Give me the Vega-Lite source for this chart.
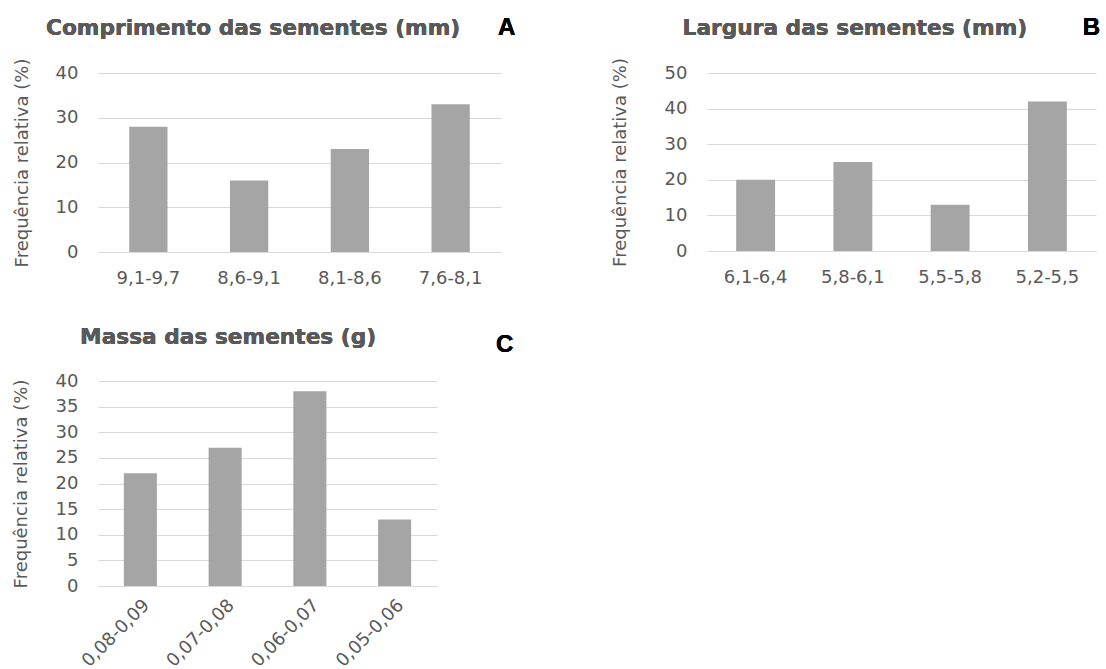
{
  "$schema": "https://vega.github.io/schema/vega-lite/v6.json",
  "padding": {"left": 12, "top": 16, "right": 5, "bottom": 0},
  "background": "white",
  "spacing": 39,
  "vconcat": [
    {
      "hconcat": [
        {
          "width": 403,
          "height": 179,
          "data": {"values": [
            {"faixa": "9,1-9,7", "freq": 28},
            {"faixa": "8,6-9,1", "freq": 16},
            {"faixa": "8,1-8,6", "freq": 23},
            {"faixa": "7,6-8,1", "freq": 33}
          ]},
          "layer": [
            {
              "mark": {"type": "bar", "color": "#a5a5a5"},
              "encoding": {
                "x": {"field": "faixa", "type": "nominal", "sort": null, "scale": {"paddingInner": 0.62, "paddingOuter": 0.31}, "axis": {"title": null}},
                "y": {"field": "freq", "type": "quantitative", "scale": {"domain": [0, 40]}, "axis": {"values": [0, 10, 20, 30, 40], "title": "Frequência relativa (%)", "titlePadding": 24}}
              }
            },
            {
              "mark": {"type": "text", "text": "Comprimento das sementes (mm)", "font": "DejaVu Sans", "fontWeight": "bold", "fontSize": 21.7, "color": "#595959", "dx": 4, "baseline": "middle", "align": "center"},
              "encoding": {"x": {"datum": "8,6-9,1", "axis": {"title": null}}, "y": {"datum": 50, "axis": {"values": [0, 10, 20, 30, 40], "title": "Frequência relativa (%)", "titlePadding": 24}}}
            },
            {
              "mark": {"type": "text", "text": "A", "font": "Liberation Sans", "fontWeight": "bold", "fontSize": 24, "color": "#000000", "dx": 56, "baseline": "middle", "align": "center"},
              "encoding": {"x": {"datum": "7,6-8,1", "axis": {"title": null}}, "y": {"datum": 50, "axis": {"values": [0, 10, 20, 30, 40], "title": "Frequência relativa (%)", "titlePadding": 24}}}
            }
          ]
        },
        {
          "width": 389,
          "height": 178,
          "data": {"values": [
            {"faixa": "6,1-6,4", "freq": 20},
            {"faixa": "5,8-6,1", "freq": 25},
            {"faixa": "5,5-5,8", "freq": 13},
            {"faixa": "5,2-5,5", "freq": 42}
          ]},
          "layer": [
            {
              "mark": {"type": "bar", "color": "#a5a5a5"},
              "encoding": {
                "x": {"field": "faixa", "type": "nominal", "sort": null, "scale": {"paddingInner": 0.6, "paddingOuter": 0.3}, "axis": {"title": null}},
                "y": {"field": "freq", "type": "quantitative", "scale": {"domain": [0, 50]}, "axis": {"values": [0, 10, 20, 30, 40, 50], "title": "Frequência relativa (%)", "titlePadding": 35}}
              }
            },
            {
              "mark": {"type": "text", "text": "Largura das sementes (mm)", "font": "DejaVu Sans", "fontWeight": "bold", "fontSize": 21.7, "color": "#595959", "dx": 2, "baseline": "middle", "align": "center"},
              "encoding": {"x": {"datum": "5,8-6,1", "axis": {"title": null}}, "y": {"datum": 62.6, "axis": {"values": [0, 10, 20, 30, 40, 50], "title": "Frequência relativa (%)", "titlePadding": 35}}}
            },
            {
              "mark": {"type": "text", "text": "B", "font": "Liberation Sans", "fontWeight": "bold", "fontSize": 24, "color": "#000000", "dx": 44, "baseline": "middle", "align": "center"},
              "encoding": {"x": {"datum": "5,2-5,5", "axis": {"title": null}}, "y": {"datum": 62.6, "axis": {"values": [0, 10, 20, 30, 40, 50], "title": "Frequência relativa (%)", "titlePadding": 35}}}
            }
          ]
        }
      ],
      "spacing": 95
    },
    {
      "width": 339,
      "height": 205,
      "data": {"values": [
        {"faixa": "0,08-0,09", "freq": 22},
        {"faixa": "0,07-0,08", "freq": 27},
        {"faixa": "0,06-0,07", "freq": 38},
        {"faixa": "0,05-0,06", "freq": 13}
      ]},
      "layer": [
        {
          "mark": {"type": "bar", "color": "#a5a5a5"},
          "encoding": {
            "x": {"field": "faixa", "type": "nominal", "sort": null, "scale": {"paddingInner": 0.61, "paddingOuter": 0.305}, "axis": {"title": null, "labelAngle": -45, "labelPadding": 10}},
            "y": {"field": "freq", "type": "quantitative", "scale": {"domain": [0, 40]}, "axis": {"values": [0, 5, 10, 15, 20, 25, 30, 35, 40], "title": "Frequência relativa (%)", "titlePadding": 25}}
          }
        },
        {
          "mark": {"type": "text", "text": "Massa das sementes (g)", "font": "DejaVu Sans", "fontWeight": "bold", "fontSize": 21.7, "color": "#595959", "dx": 3, "baseline": "middle", "align": "center"},
          "encoding": {"x": {"datum": "0,07-0,08", "axis": {"title": null, "labelAngle": -45, "labelPadding": 10}}, "y": {"datum": 48.6, "axis": {"values": [0, 5, 10, 15, 20, 25, 30, 35, 40], "title": "Frequência relativa (%)", "titlePadding": 25}}}
        },
        {
          "mark": {"type": "text", "text": "C", "font": "Liberation Sans", "fontWeight": "bold", "fontSize": 24, "color": "#000000", "dx": 110, "baseline": "middle", "align": "center"},
          "encoding": {"x": {"datum": "0,05-0,06", "axis": {"title": null, "labelAngle": -45, "labelPadding": 10}}, "y": {"datum": 47, "axis": {"values": [0, 5, 10, 15, 20, 25, 30, 35, 40], "title": "Frequência relativa (%)", "titlePadding": 25}}}
        }
      ]
    }
  ],
  "config": {
    "view": {"stroke": null},
    "font": "DejaVu Sans",
    "axis": {
      "labelColor": "#595959",
      "titleColor": "#595959",
      "labelFont": "DejaVu Sans",
      "titleFont": "DejaVu Sans",
      "labelFontSize": 18,
      "titleFontSize": 18,
      "titleFontWeight": "normal",
      "ticks": false,
      "gridColor": "#d9d9d9",
      "domainColor": "#d9d9d9"
    },
    "axisY": {"domain": false, "grid": true, "labelPadding": 20},
    "axisX": {"grid": false, "labelAngle": 0, "labelPadding": 17}
  }
}
